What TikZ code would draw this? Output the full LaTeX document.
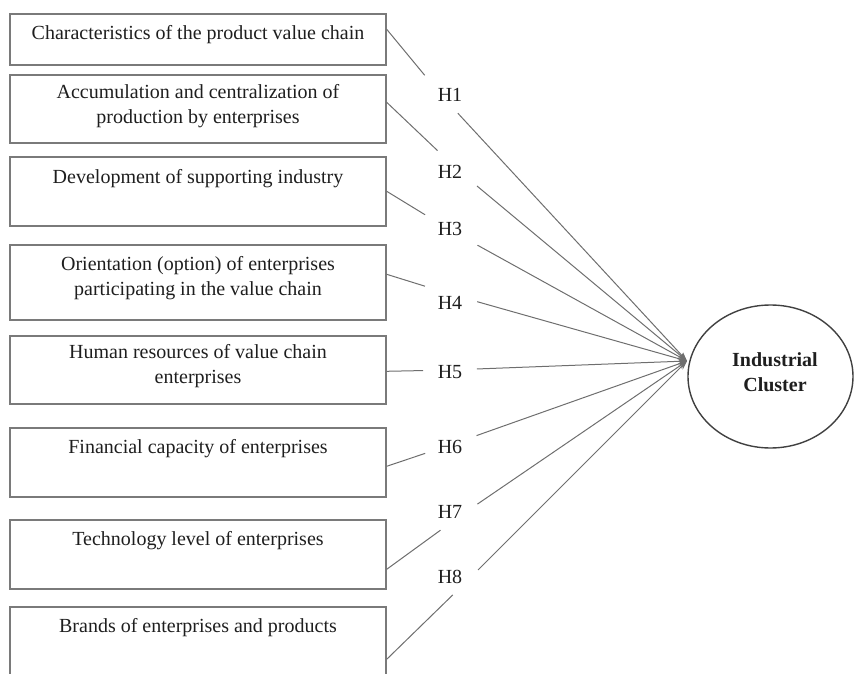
\documentclass[tikz,border=0pt]{standalone}
\usepackage{fontspec}
\setmainfont{Liberation Serif}
\usetikzlibrary{arrows.meta,shapes.geometric}
\definecolor{boxgray}{HTML}{7A7A7A}
\definecolor{linegray}{HTML}{6E6E6E}
\definecolor{ink}{HTML}{1E1E1E}
\begin{document}
\begin{tikzpicture}[x=1pt,y=-1pt,
  box/.style={draw=boxgray, line width=1.4pt, minimum width=376pt, inner sep=0pt},
  txt/.style={font=\fontsize{20}{25}\selectfont, text=ink, align=center, inner sep=0pt, anchor=north},
  hyp/.style={font=\fontsize{20}{25}\selectfont, text=ink, inner sep=0pt},
  conn/.style={draw=linegray, line width=1pt},
  arr/.style={conn, -{Stealth[length=9pt,width=6pt]}},
]
\useasboundingbox (0,0) rectangle (855,674);

% boxes
\node[box, minimum height=51pt] (b1) at (198,39.5) {};
\node[box, minimum height=68pt] (b2) at (198,109) {};
\node[box, minimum height=69pt] (b3) at (198,191.5) {};
\node[box, minimum height=75pt] (b4) at (198,282.5) {};
\node[box, minimum height=68pt] (b5) at (198,370) {};
\node[box, minimum height=69pt] (b6) at (198,462.5) {};
\node[box, minimum height=69pt] (b7) at (198,554.5) {};
\node[box, minimum height=80pt] (b8) at (198,647) {};

\node[txt] (t1) at ([yshift=-12pt]b1.north) {Characteristics of the product value chain};
\node[txt] (t2) at ([yshift=-10pt]b2.north) {Accumulation and centralization of\\production by enterprises};
\node[txt] (t3) at ([yshift=-13pt]b3.north) {Development of supporting industry};
\node[txt] (t4) at ([yshift=-12pt]b4.north) {Orientation (option) of enterprises\\participating in the value chain};
\node[txt] (t5) at ([yshift=-9pt]b5.north) {Human resources of value chain\\enterprises};
\node[txt] (t6) at ([yshift=-12pt]b6.north) {Financial capacity of enterprises};
\node[txt] (t7) at ([yshift=-12pt]b7.north) {Technology level of enterprises};
\node[txt] (t8) at ([yshift=-12pt]b8.north) {Brands of enterprises and products};

% hypothesis labels
\node[hyp] (h1) at (450,95) {H1};
\node[hyp] (h2) at (450,172) {H2};
\node[hyp] (h3) at (450,229) {H3};
\node[hyp] (h4) at (450,303) {H4};
\node[hyp] (h5) at (450,372) {H5};
\node[hyp] (h6) at (450,447) {H6};
\node[hyp] (h7) at (450,512) {H7};
\node[hyp] (h8) at (450,577) {H8};

% outcome
\node[draw=ink!85, line width=1.4pt, ellipse, minimum width=165pt, minimum height=143pt, inner sep=0pt] (ic) at (770.5,376.5) {};
\node[font=\fontsize{20}{25}\selectfont\bfseries, text=ink, align=center, inner sep=0pt] (ict) at (775,372.5) {Industrial\\Cluster};

\coordinate (tgt) at (687,361);
\coordinate (m1) at (441,95);
\coordinate (m2) at (459,171);
\coordinate (m3) at (450,230);
\coordinate (m4) at (450,294);
\coordinate (m5) at (450,370);
\coordinate (m6) at (450,445);
\coordinate (m7) at (460,516);
\coordinate (m8) at (465,583);

% connectors
\draw[conn, shorten >=25.6pt] ([yshift=-16pt]b1.north east) -- (m1);
\draw[arr, shorten <=24.8pt] (m1) -- (tgt);
\draw[conn, shorten >=29.7pt] ([yshift=-28pt]b2.north east) -- (m2);
\draw[arr, shorten <=23.4pt] (m2) -- (tgt);
\draw[conn, shorten >=29.2pt] ([yshift=-35pt]b3.north east) -- (m3);
\draw[arr, shorten <=31.4pt] (m3) -- (tgt);
\draw[conn, shorten >=26.2pt] ([yshift=-30pt]b4.north east) -- (m4);
\draw[arr, shorten <=28.2pt] (m4) -- (tgt);
\draw[conn, shorten >=27pt] ([yshift=-36pt]b5.north east) -- (m5);
\draw[arr, shorten <=27pt] (m5) -- (tgt);
\draw[conn, shorten >=26.2pt] ([yshift=-39pt]b6.north east) -- (m6);
\draw[arr, shorten <=28.2pt] (m6) -- (tgt);
\draw[conn, shorten >=24.1pt] ([yshift=-50pt]b7.north east) -- (m7);
\draw[arr, shorten <=21.1pt] (m7) -- (tgt);
\draw[conn, shorten >=17pt] ([yshift=-53pt]b8.north east) -- (m8);
\draw[arr, shorten <=18.4pt] (m8) -- (tgt);
\end{tikzpicture}
\end{document}
